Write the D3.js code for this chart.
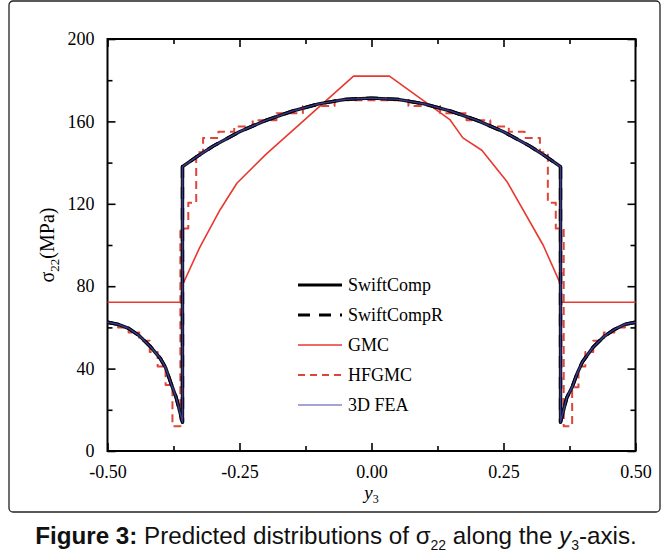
<!DOCTYPE html>
<html>
<head>
<meta charset="utf-8">
<script src="https://cdn.jsdelivr.net/npm/d3@7"></script>
<style>
  body { margin: 0; background: #fff; }
  svg { display: block; }
</style>
</head>
<body>
<div id="chart"></div>
<script>
// tick values
const xTicks = [-0.5, -0.25, 0, 0.25, 0.5];
const xMinor = [-0.375, -0.125, 0.125, 0.375];
const yTicks = [0, 40, 80, 120, 160, 200];
const yMinor = [20, 60, 100, 140, 180];

// [y3, sigma22]
const swiftComp = [
  [-0.50, 62.5], [-0.48, 61.5], [-0.46, 59.5], [-0.44, 56], [-0.42, 51], [-0.40, 45],
  [-0.39, 40.5], [-0.38, 33], [-0.37, 26], [-0.363, 19], [-0.358, 14],
  [-0.358, 138], [-0.33, 143], [-0.30, 148], [-0.25, 155], [-0.20, 160.5], [-0.15, 165],
  [-0.10, 168.5], [-0.05, 170.7], [0, 171.3], [0.05, 170.7], [0.10, 168.5], [0.15, 165],
  [0.20, 160.5], [0.25, 155], [0.30, 148], [0.33, 143], [0.358, 138],
  [0.358, 14], [0.363, 19], [0.37, 26], [0.38, 31], [0.39, 38], [0.40, 43.5],
  [0.42, 50.5], [0.44, 55.5], [0.46, 59], [0.48, 61.5], [0.50, 62.5]
];
const swiftCompR = [
  [-0.50, 62.5], [-0.48, 61.5], [-0.46, 59.5], [-0.44, 56], [-0.42, 51], [-0.40, 45],
  [-0.39, 40.5], [-0.38, 33], [-0.37, 26], [-0.363, 19], [-0.358, 14],
  [-0.358, 138], [-0.33, 143], [-0.30, 148], [-0.25, 155], [-0.20, 160.5], [-0.15, 165],
  [-0.10, 168.5], [-0.05, 170.7], [0, 171.3], [0.05, 170.7], [0.10, 168.5], [0.15, 165],
  [0.20, 160.5], [0.25, 155], [0.30, 148], [0.33, 143], [0.358, 138],
  [0.358, 14], [0.363, 19], [0.37, 26], [0.38, 31], [0.39, 38], [0.40, 43.5],
  [0.42, 50.5], [0.44, 55.5], [0.46, 59], [0.48, 61.5], [0.50, 62.5]
];
const fea3d = [
  [-0.50, 62.5], [-0.48, 61.5], [-0.46, 59.5], [-0.44, 56], [-0.42, 51], [-0.40, 45],
  [-0.39, 40.5], [-0.38, 33], [-0.37, 26], [-0.363, 19], [-0.358, 14],
  [-0.358, 138], [-0.33, 143], [-0.30, 148], [-0.25, 155], [-0.20, 160.5], [-0.15, 165],
  [-0.10, 168.5], [-0.05, 170.7], [0, 171.3], [0.05, 170.7], [0.10, 168.5], [0.15, 165],
  [0.20, 160.5], [0.25, 155], [0.30, 148], [0.33, 143], [0.358, 138],
  [0.358, 14], [0.363, 19], [0.37, 26], [0.38, 31], [0.39, 38], [0.40, 43.5],
  [0.42, 50.5], [0.44, 55.5], [0.46, 59], [0.48, 61.5], [0.50, 62.5]
];
const gmc = [
  [-0.50, 72.2], [-0.358, 72.2], [-0.358, 80.6], [-0.325, 99], [-0.287, 117],
  [-0.255, 130], [-0.20, 144], [-0.034, 182], [0.034, 182], [0.149, 160.7],
  [0.173, 152], [0.209, 146], [0.256, 131], [0.325, 100], [0.358, 81],
  [0.358, 72.2], [0.50, 72.2]
];
// HFGMC is piecewise constant (subcell averages)
const hfgmc = [
  [-0.50, 62], [-0.48, 62], [-0.48, 60], [-0.46, 60], [-0.46, 57.5], [-0.44, 57.5],
  [-0.44, 53.5], [-0.42, 53.5], [-0.42, 48], [-0.405, 48], [-0.405, 41], [-0.39, 41],
  [-0.39, 32], [-0.377, 32], [-0.377, 12], [-0.362, 12],
  [-0.362, 108], [-0.347, 108], [-0.347, 120.5], [-0.332, 120.5], [-0.332, 145],
  [-0.319, 145], [-0.319, 152], [-0.29, 152], [-0.29, 155], [-0.26, 155], [-0.26, 157.5],
  [-0.225, 157.5], [-0.225, 160.5], [-0.18, 160.5], [-0.18, 164], [-0.13, 164],
  [-0.13, 167.5], [-0.07, 167.5], [-0.07, 170.3], [0.07, 170.3], [0.07, 167.5],
  [0.13, 167.5], [0.13, 164], [0.18, 164], [0.18, 160.5], [0.225, 160.5], [0.225, 157.5],
  [0.26, 157.5], [0.26, 155], [0.29, 155], [0.29, 152], [0.319, 152], [0.319, 145],
  [0.334, 145], [0.334, 120.5], [0.349, 120.5], [0.349, 108], [0.364, 108],
  [0.364, 12], [0.38, 12], [0.38, 31], [0.392, 31], [0.392, 41], [0.405, 41],
  [0.405, 48], [0.42, 48], [0.42, 53.5], [0.44, 53.5], [0.44, 57.5], [0.46, 57.5],
  [0.46, 60], [0.48, 60], [0.48, 62], [0.50, 62]
];

const legendItems = [
  { name: 'SwiftComp', color: '#000', width: 3.2, dash: null },
  { name: 'SwiftCompR', color: '#000', width: 3.2, dash: '12,9' },
  { name: 'GMC', color: '#e8392e', width: 1.6, dash: null },
  { name: 'HFGMC', color: '#e0453a', width: 2, dash: '7,5' },
  { name: '3D FEA', color: '#4a4aa8', width: 1.2, dash: null }
];

const width = 667, height = 560;
const margin = { top: 39, right: 31.5, bottom: 109, left: 107.5 };
const plotW = width - margin.left - margin.right;
const plotH = height - margin.top - margin.bottom;
const serif = '"Liberation Serif", "Times New Roman", serif';

const svg = d3.select('#chart').append('svg')
  .attr('width', width)
  .attr('height', height);

// figure border
svg.append('rect')
  .attr('x', 9).attr('y', 1)
  .attr('width', 651).attr('height', 511)
  .attr('rx', 4)
  .attr('fill', 'none')
  .attr('stroke', '#222')
  .attr('stroke-width', 1.3);

const plot = svg.append('g')
  .attr('transform', `translate(${margin.left},${margin.top})`);

const x = d3.scaleLinear().domain([-0.5, 0.5]).range([0, plotW]);
const y = d3.scaleLinear().domain([0, 200]).range([plotH, 0]);

// plain hyphen for negatives, like the original
const fmtX = d => d3.format('.2f')(d).replace('−', '-');

// axes, ticks pointing inward
function styleAxis(g) {
  g.selectAll('.domain').remove();
  g.selectAll('line').attr('stroke', '#000').attr('stroke-width', 1.6);
  g.selectAll('text').attr('font-family', serif).attr('font-size', 18).attr('fill', '#000');
}
plot.append('g')
  .attr('transform', `translate(0,${plotH})`)
  .call(d3.axisBottom(x).tickValues(xTicks).tickSize(-8).tickPadding(14).tickFormat(fmtX))
  .call(styleAxis);
plot.append('g')
  .attr('transform', `translate(0,${plotH})`)
  .call(d3.axisBottom(x).tickValues(xMinor).tickSize(-5).tickFormat(''))
  .call(styleAxis);
plot.append('g')
  .call(d3.axisTop(x).tickValues(xTicks).tickSize(-8).tickFormat(''))
  .call(styleAxis);
plot.append('g')
  .call(d3.axisTop(x).tickValues(xMinor).tickSize(-5).tickFormat(''))
  .call(styleAxis);
plot.append('g')
  .call(d3.axisLeft(y).tickValues(yTicks).tickSize(-8).tickPadding(13))
  .call(styleAxis);
plot.append('g')
  .call(d3.axisLeft(y).tickValues(yMinor).tickSize(-5).tickFormat(''))
  .call(styleAxis);
plot.append('g')
  .attr('transform', `translate(${plotW},0)`)
  .call(d3.axisRight(y).tickValues(yTicks).tickSize(-8).tickFormat(''))
  .call(styleAxis);
plot.append('g')
  .attr('transform', `translate(${plotW},0)`)
  .call(d3.axisRight(y).tickValues(yMinor).tickSize(-5).tickFormat(''))
  .call(styleAxis);

plot.append('rect')
  .attr('width', plotW).attr('height', plotH)
  .attr('fill', 'none')
  .attr('stroke', '#000')
  .attr('stroke-width', 2);

const line = d3.line()
  .x(d => x(d[0]))
  .y(d => y(d[1]));

function addLine(data, color, w, dash) {
  plot.append('path')
    .datum(data)
    .attr('fill', 'none')
    .attr('stroke', color)
    .attr('stroke-width', w)
    .attr('stroke-dasharray', dash)
    .attr('stroke-linejoin', 'round')
    .attr('d', line);
}

addLine(gmc, '#e8392e', 1.6, null);
addLine(hfgmc, '#e0453a', 2, '8,5');
addLine(swiftComp, '#111', 3.4, null);
addLine(swiftCompR, '#000', 3.4, '12,9');
addLine(fea3d, '#3a3a96', 1.4, null);

// legend
const legend = plot.append('g')
  .attr('transform', `translate(${298 - margin.left},${285 - margin.top})`);
legendItems.forEach((d, i) => {
  const row = legend.append('g').attr('transform', `translate(0,${i * 30})`);
  row.append('line')
    .attr('x1', 0).attr('x2', 44)
    .attr('stroke', d.color)
    .attr('stroke-width', d.width)
    .attr('stroke-dasharray', d.dash);
  row.append('text')
    .attr('x', 50).attr('y', 6)
    .attr('font-family', serif).attr('font-size', 18)
    .text(d.name);
});

// axis titles
const xt = svg.append('text')
  .attr('x', margin.left + x(0)).attr('y', 499)
  .attr('text-anchor', 'middle')
  .attr('font-family', serif).attr('font-size', 19);
xt.append('tspan').attr('font-style', 'italic').text('y');
xt.append('tspan').attr('font-size', 12).attr('dy', 4).text('3');

const yt = svg.append('text')
  .attr('transform', `translate(54,${margin.top + plotH / 2}) rotate(-90)`)
  .attr('text-anchor', 'middle')
  .attr('font-family', serif).attr('font-size', 20);
yt.append('tspan').text('σ');
yt.append('tspan').attr('font-size', 13).attr('dy', 5).text('22');
yt.append('tspan').attr('dy', -5).text('(MPa)');

// caption
const cap = svg.append('text')
  .attr('x', 336).attr('y', 544)
  .attr('text-anchor', 'middle')
  .attr('font-family', '"Liberation Sans", Arial, sans-serif')
  .attr('font-size', 24.2).attr('fill', '#111');
cap.append('tspan').attr('font-weight', 'bold').text('Figure 3:');
cap.append('tspan').text(' Predicted distributions of σ');
cap.append('tspan').attr('font-size', 14).attr('dy', 6).text('22');
cap.append('tspan').attr('dy', -6).text(' along the ');
cap.append('tspan').attr('font-style', 'italic').text('y');
cap.append('tspan').attr('font-size', 14).attr('dy', 6).text('3');
cap.append('tspan').attr('dy', -6).text('-axis.');
</script>
</body>
</html>
